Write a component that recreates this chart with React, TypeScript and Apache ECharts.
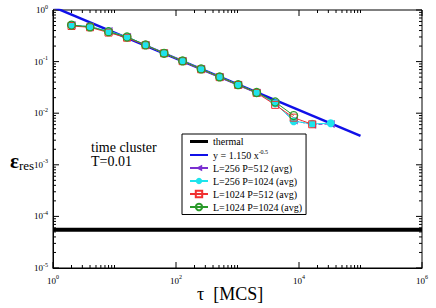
import React, { useEffect, useRef } from "react";
import * as echarts from "echarts";

const tau = [2, 4, 8, 16, 32, 64, 128, 256, 512, 1024, 2048, 4096, 8192, 16384, 32768];
const purpleVals = [0.51, 0.475, 0.39, 0.3, 0.21, 0.145, 0.103, 0.072, 0.0505, 0.0357, 0.025, 0.0155, 0.0072, 0.006, 0.0062];
const cyanVals = [0.51, 0.475, 0.39, 0.3, 0.21, 0.145, 0.103, 0.072, 0.0505, 0.0357, 0.025, 0.0155, 0.007, 0.0062, 0.0064];
const redVals = [0.49, 0.462, 0.365, 0.29, 0.208, 0.145, 0.102, 0.071, 0.05, 0.0352, 0.0248, 0.0145, 0.0082, 0.0061];
const greenVals = [0.51, 0.47, 0.38, 0.3, 0.21, 0.145, 0.103, 0.072, 0.0505, 0.0357, 0.0252, 0.0165, 0.009];
const thermalX = [1, 1e6];
const thermalY = [5.5e-5, 5.5e-5];
const fitX = [1, 1e5];
const fitY = [1.15, 0.00364];
const xMajorTicks = [1, 100, 1e4, 1e6];
const xMinorMult = [2, 3, 4, 5, 6, 7, 8, 9, 10];
const yMajorTicks = [1e-5, 1e-4, 1e-3, 1e-2, 1e-1, 1];
const yMinorMult = [2, 3, 4, 5, 6, 7, 8, 9];

const FONT = "'Liberation Serif', 'Times New Roman', serif";

export default function App() {
  const ref = useRef<HTMLDivElement>(null);
  useEffect(() => {
    if (!ref.current) return;
    const chart = echarts.init(ref.current, null, { renderer: "svg" });

    const xTickData: number[][] = [];
    xMajorTicks.forEach((m) => xTickData.push([m, 1e-5, 6]));
    xMajorTicks.slice(0, 3).forEach((m) => xMinorMult.forEach((k) => xTickData.push([m * k, 1e-5, 3])));
    const yTickData: number[][] = [];
    yMajorTicks.forEach((m) => yTickData.push([1, m, 6]));
    yMajorTicks.slice(0, 5).forEach((m) => yMinorMult.forEach((k) => yTickData.push([1, m * k, 3])));

    const zip = (xs: number[], ys: number[]) => ys.map((y, i) => [xs[i], y]);
    const tickLabel = (v: number) => {
      const e = Math.round(Math.log10(v));
      return `{b|10}{s|${e}}`;
    };
    const labelRich = {
      b: { fontSize: 9, fontFamily: FONT, color: "#000" },
      s: { fontSize: 6, fontFamily: FONT, color: "#000", padding: [0, 0, 7, 0] },
    };

    chart.setOption({
      animation: false,
      textStyle: { fontFamily: FONT },
      grid: {
        left: 53,
        right: 14,
        top: 10,
        bottom: 40,
        show: true,
        borderColor: "#000",
        borderWidth: 1,
        backgroundColor: "transparent",
      },
      xAxis: {
        type: "log",
        logBase: 10,
        min: 1,
        max: 1e6,
        splitNumber: 6,
        axisLine: { show: true, lineStyle: { color: "#000", width: 1 } },
        axisTick: { show: false },
        splitLine: { show: false },
        minorTick: { show: false },
        axisLabel: {
          margin: 6,
          fontFamily: FONT,
          color: "#000",
          formatter: (v: number) => {
            const e = Math.round(Math.log10(v));
            return e % 2 === 0 ? tickLabel(v) : "";
          },
          rich: labelRich,
        },
      },
      yAxis: {
        type: "log",
        logBase: 10,
        min: 1e-5,
        max: 1,
        splitNumber: 5,
        axisLine: { show: true, lineStyle: { color: "#000", width: 1 } },
        axisTick: { show: false },
        splitLine: { show: false },
        axisLabel: { margin: 5, fontFamily: FONT, color: "#000", formatter: (v: number) => tickLabel(v), rich: labelRich },
      },
      legend: {
        left: 182,
        top: 134,
        orient: "vertical",
        backgroundColor: "#fff",
        borderColor: "#000",
        borderWidth: 1,
        borderRadius: 0,
        padding: [2, 4, 2, 7],
        itemGap: 2,
        itemWidth: 18,
        itemHeight: 8,
        data: [
          { name: "thermal", icon: "path://M0,0L18,0L18,3L0,3Z" },
          { name: "fit", icon: "path://M0,0L18,0L18,2L0,2Z" },
          "L=256 P=512 (avg)",
          "L=256 P=1024 (avg)",
          "L=1024 P=512 (avg)",
          "L=1024 P=1024 (avg)",
        ],
        formatter: (name: string) => (name === "fit" ? "y = 1.150 x{s|-0.5}" : name),
        textStyle: {
          fontFamily: FONT,
          fontSize: 10,
          color: "#000",
          lineHeight: 11,
          rich: { s: { fontSize: 6, fontFamily: FONT, color: "#000", padding: [0, 0, 6, 0] } },
        },
      },
      graphic: [
        {
          type: "text",
          left: 91,
          top: 140,
          style: { text: "time cluster\nT=0.01", fontSize: 14, fontFamily: FONT, fill: "#000", lineHeight: 14 },
        },
        {
          type: "text",
          left: 10,
          top: 150,
          style: {
            text: "{e|ε}{r|res}",
            rich: {
              e: { fontSize: 21, fontWeight: "bold", fontFamily: FONT, fill: "#000" },
              r: { fontSize: 13, fontFamily: FONT, fill: "#000", padding: [10, 0, 0, 0] },
            },
          },
        },
        {
          type: "text",
          left: 197,
          top: 285,
          style: { text: "τ  [MCS]", fontSize: 18, fontFamily: FONT, fill: "#000" },
        },
      ],
      series: [
        {
          type: "custom",
          silent: true,
          data: xTickData,
          renderItem: (params: any, api: any) => {
            const x = api.value(0);
            const len = api.value(2);
            const b = api.coord([x, 1e-5]);
            const t = api.coord([x, 1]);
            return {
              type: "group",
              children: [
                { type: "line", shape: { x1: b[0], y1: b[1], x2: b[0], y2: b[1] - len }, style: { stroke: "#000", lineWidth: 1 } },
                { type: "line", shape: { x1: t[0], y1: t[1], x2: t[0], y2: t[1] + len }, style: { stroke: "#000", lineWidth: 1 } },
              ],
            };
          },
        },
        {
          type: "custom",
          silent: true,
          data: yTickData,
          renderItem: (params: any, api: any) => {
            const y = api.value(1);
            const len = api.value(2);
            const l = api.coord([1, y]);
            const r = api.coord([1e6, y]);
            return {
              type: "group",
              children: [
                { type: "line", shape: { x1: l[0], y1: l[1], x2: l[0] + len, y2: l[1] }, style: { stroke: "#000", lineWidth: 1 } },
                { type: "line", shape: { x1: r[0], y1: r[1], x2: r[0] - len, y2: r[1] }, style: { stroke: "#000", lineWidth: 1 } },
              ],
            };
          },
        },
        {
          name: "thermal",
          type: "line",
          data: zip(thermalX, thermalY),
          symbol: "none",
          lineStyle: { color: "#000", width: 4 },
          itemStyle: { color: "#000" },
        },
        {
          name: "fit",
          type: "line",
          data: zip(fitX, fitY),
          symbol: "none",
          clip: true,
          lineStyle: { color: "#1010e8", width: 2.5 },
          itemStyle: { color: "#1010e8" },
        },
        {
          name: "L=256 P=512 (avg)",
          type: "line",
          data: zip(tau, purpleVals),
          symbol: "triangle",
          symbolRotate: 90,
          symbolSize: 8,
          lineStyle: { color: "#7a2fd0", width: 1, type: "dashed" },
          itemStyle: { color: "#7a2fd0" },
        },
        {
          name: "L=256 P=1024 (avg)",
          type: "line",
          data: zip(tau, cyanVals),
          symbol: "circle",
          symbolSize: 8,
          lineStyle: { color: "#1ee4ec", width: 1 },
          itemStyle: { color: "#1ee4ec" },
        },
        {
          name: "L=1024 P=512 (avg)",
          type: "line",
          data: zip(tau, redVals),
          symbol: "rect",
          symbolSize: 7,
          lineStyle: { color: "#f03030", width: 1 },
          itemStyle: { color: "rgba(0,0,0,0)", borderColor: "#f03030", borderWidth: 1 },
        },
        {
          name: "L=1024 P=1024 (avg)",
          type: "line",
          data: zip(tau, greenVals),
          symbol: "circle",
          symbolSize: 8,
          lineStyle: { color: "#2a9a2a", width: 1 },
          itemStyle: { color: "rgba(0,0,0,0)", borderColor: "#2a9a2a", borderWidth: 1.2 },
        },
      ],
    });
    return () => chart.dispose();
  }, []);
  return <div ref={ref} style={{ width: 436, height: 308, position: "absolute", left: 0, top: 0 }} />;
}
